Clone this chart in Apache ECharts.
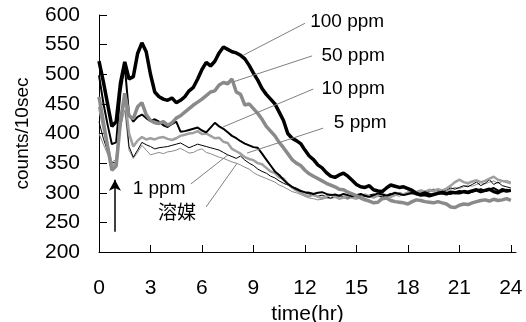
<!DOCTYPE html>
<html>
<head>
<meta charset="utf-8">
<script src="https://cdn.jsdelivr.net/npm/echarts@6.0.0/dist/echarts.min.js"></script>
<style>
  html, body { margin: 0; padding: 0; background: #fff; }
  #chart { width: 526px; height: 322px; }
</style>
</head>
<body>
<div id="chart"></div>
<script>
// sampling times (hr), one value every 15 min
const hours = [
  0, 0.25, 0.5, 0.75, 1, 1.25, 1.5, 1.75, 2, 2.25, 2.5, 2.75, 3, 3.25, 3.5, 3.75,
  4, 4.25, 4.5, 4.75, 5, 5.25, 5.5, 5.75, 6, 6.25, 6.5, 6.75, 7, 7.25, 7.5, 7.75,
  8, 8.25, 8.5, 8.75, 9, 9.25, 9.5, 9.75, 10, 10.25, 10.5, 10.75, 11, 11.25, 11.5, 11.75,
  12, 12.25, 12.5, 12.75, 13, 13.25, 13.5, 13.75, 14, 14.25, 14.5, 14.75, 15, 15.25, 15.5, 15.75,
  16, 16.25, 16.5, 16.75, 17, 17.25, 17.5, 17.75, 18, 18.25, 18.5, 18.75, 19, 19.25, 19.5, 19.75,
  20, 20.25, 20.5, 20.75, 21, 21.25, 21.5, 21.75, 22, 22.25, 22.5, 22.75, 23, 23.25, 23.5, 23.75,
  24
];

const ppm100 = [
  522, 488, 450, 412, 420, 485, 521, 492, 496, 535, 553, 538, 500, 470, 462, 458,
  456, 460, 452, 456, 462, 472, 478, 492, 508, 520, 514, 522, 536, 546, 542, 538,
  536, 532, 526, 515, 502, 490, 476, 466, 458, 450, 436, 422, 400, 392, 388, 383,
  372, 362, 356, 347, 342, 334, 328, 326, 330, 333, 328, 321, 314, 310, 309, 312,
  305, 303, 302, 308, 313, 311, 309, 310, 307, 304, 299, 296, 297, 295, 297, 299,
  300, 298, 301, 300, 300, 302, 301, 303, 305, 302, 304, 306, 302, 300, 305, 303,
  304
];
const ppm50 = [
  462, 420, 378, 338, 345, 420, 468, 430, 425, 445, 452, 432, 422, 418, 417, 420,
  414, 418, 426, 430, 436, 442, 448, 453, 458, 464, 470, 472, 482, 486, 484, 492,
  470, 466, 448, 450, 442, 434, 424, 412, 404, 396, 385, 376, 366, 356, 350, 346,
  338, 332, 328, 324, 320, 316, 313, 310, 306, 305, 301, 298, 295, 291, 288, 286,
  283, 284, 290, 291, 287, 285, 284, 283, 281, 285, 288, 287, 285, 284, 283, 285,
  283, 281, 276, 275, 279, 281, 280, 283, 285, 287, 288, 286, 289, 287, 288, 290,
  287
];
const ppm10 = [
  498, 452, 415, 382, 385, 470, 515, 432, 420, 428, 432, 426, 421, 424, 420, 414,
  411, 416, 420, 403, 404, 406, 408, 410, 405, 402, 410, 418, 412, 408, 402, 396,
  392, 387, 383, 380, 377, 376, 366, 356, 346, 336, 330, 322, 315, 310, 306, 303,
  301, 300, 298, 300, 301, 298, 296, 297, 295, 298, 296, 294, 296, 298, 295, 293,
  296, 299, 297, 295, 297, 300, 298, 296, 298, 300, 297, 299, 301, 298, 296, 299,
  302, 300, 298, 301, 303, 301, 299, 302, 304, 306, 303, 305, 308, 304, 302, 305,
  303
];
const ppm5 = [
  445, 410, 380, 345, 350, 425, 462, 400, 378, 388, 394, 390, 392, 390, 393, 394,
  391, 389, 392, 396, 398, 400, 401, 404, 399, 400, 396, 392, 393, 386, 384, 374,
  370, 366, 360, 357, 355, 350, 348, 342, 336, 333, 326, 324, 315, 309, 304, 300,
  296, 294, 297, 293, 291, 294, 297, 293, 290, 292, 295, 292, 290, 293, 297, 294,
  292, 295, 298, 296, 293, 296, 299, 297, 300, 303, 301, 304, 302, 305, 303, 306,
  304, 307, 312, 318, 322, 318, 316, 319, 321, 318, 320, 324, 327, 322, 320, 318,
  316
];
const ppm1 = [
  420, 392, 370, 350, 352, 420, 455, 378, 360, 372, 385, 381, 378, 374, 376, 377,
  378, 380, 382, 384, 380, 376, 379, 382, 380, 378, 376, 374, 372, 368, 364, 361,
  358, 362, 355, 350, 346, 340, 336, 333, 328, 325, 320, 316, 313, 310, 308, 304,
  300, 298, 295, 294, 296, 293, 291, 294, 296, 293, 291, 294, 297, 295, 293, 296,
  298, 295, 293, 296, 299, 297, 300, 298, 301, 299, 302, 304, 301, 303, 306, 304,
  302, 305, 308, 306, 309, 312, 310, 314, 318, 312, 316, 322, 314, 318, 312, 310,
  308
];
const solvent = [
  400, 382, 365, 352, 356, 410, 440, 372, 358, 368, 380, 372, 364, 366, 368, 366,
  369, 370, 372, 375, 371, 367, 368, 372, 374, 368, 366, 363, 360, 358, 355, 352,
  350, 347, 343, 340, 334, 330, 327, 324, 321, 318, 313, 310, 306, 302, 300, 297,
  294, 291, 290, 288, 289, 291, 290, 292, 294, 291, 289, 292, 295, 293, 290, 293,
  296, 294, 292, 295, 298, 296, 294, 297, 299, 297, 300, 302, 299, 301, 304, 302,
  305, 303, 306, 309, 307, 310, 313, 311, 314, 317, 315, 318, 320, 316, 319, 321,
  318
];

const xTicks = [0, 3, 6, 9, 12, 15, 18, 21, 24];

// callouts: text, point on curve, end of leader, label centre (all in data units)
const callouts = {
  "100 ppm": { curve: [8.40, 532], end: [12.0, 586], text: [14.46, 588] },
  "50 ppm":  { curve: [7.81, 487], end: [12.42, 531], text: [14.81, 531] },
  "10 ppm":  { curve: [7.23, 411], end: [12.48, 475], text: [14.81, 475] },
  "5 ppm":   { curve: [8.63, 367], end: [13.06, 409], text: [15.22, 418] },
  "1 ppm":   { curve: [7.52, 364], end: [5.36, 315], text: [3.5, 306] },
  "溶媒":    { curve: [8.05, 350], end: [6.24, 276], text: [4.55, 264] }
};
// injection arrow
const arrowAt = 0.93;
const arrowFrom = 234;
const arrowTo = 322;

const FONT = "'Liberation Sans', Arial, 'Noto Sans CJK JP', sans-serif";

function pairs(vals) {
  return vals.map((v, i) => [hours[i], v]);
}

function makeSeries(name, vals, color, width) {
  const c = callouts[name];
  return {
    name: name,
    type: "line",
    data: pairs(vals),
    showSymbol: false,
    symbol: "none",
    lineStyle: { color: color, width: width },
    itemStyle: { color: color },
    z: 2,
    markLine: {
      silent: true,
      symbol: "none",
      animation: false,
      lineStyle: { color: "#808080", width: 1, type: "solid" },
      label: { show: false },
      data: [[{ coord: c.curve }, { coord: c.end }]]
    },
    markPoint: {
      silent: true,
      symbol: "circle",
      symbolSize: 0,
      animation: false,
      label: {
        show: true,
        position: "inside",
        formatter: name,
        color: "#000",
        fontSize: 19,
        fontFamily: FONT
      },
      data: [{ coord: c.text }]
    }
  };
}

const chart = echarts.init(document.getElementById("chart"));
chart.setOption({
  animation: false,
  backgroundColor: "#fff",
  textStyle: { fontFamily: FONT },
  grid: { left: 99, right: 10, top: 15, bottom: 70, outerBoundsMode: "none", containLabel: false },
  xAxis: {
    type: "value",
    min: 0,
    max: 24.3,
    name: "time(hr)",
    nameLocation: "middle",
    nameGap: 48,
    nameTextStyle: { color: "#000", fontSize: 21, fontFamily: FONT },
    axisLine: { show: true, lineStyle: { color: "#000", width: 1 } },
    axisTick: { show: true, inside: true, length: 7, customValues: xTicks, lineStyle: { color: "#000" } },
    axisLabel: { customValues: xTicks, color: "#000", fontSize: 21, margin: 26, fontFamily: FONT },
    splitLine: { show: false }
  },
  yAxis: {
    type: "value",
    min: 200,
    max: 600,
    interval: 50,
    name: "counts/10sec",
    nameLocation: "middle",
    nameRotate: 90,
    nameGap: 67,
    nameTextStyle: { color: "#000", fontSize: 19, fontFamily: FONT },
    axisLine: { show: true, lineStyle: { color: "#000", width: 1 } },
    axisTick: { show: true, inside: true, length: 8, lineStyle: { color: "#000" } },
    axisLabel: { color: "#000", fontSize: 21, margin: 19, fontFamily: FONT },
    splitLine: { show: false }
  },
  series: [
    makeSeries("溶媒", solvent, "#8c8c8c", 1),
    makeSeries("1 ppm", ppm1, "#000", 1),
    makeSeries("5 ppm", ppm5, "#a0a0a0", 2.5),
    makeSeries("10 ppm", ppm10, "#000", 2),
    makeSeries("50 ppm", ppm50, "#8a8a8a", 3.5),
    makeSeries("100 ppm", ppm100, "#000", 3.5),
    {
      name: "arrow",
      type: "line",
      data: [],
      markLine: {
        silent: true,
        animation: false,
        symbol: ["none", "arrow"],
        symbolSize: [9, 11],
        lineStyle: { color: "#000", width: 1.5, type: "solid" },
        label: { show: false },
        data: [[{ coord: [arrowAt, arrowFrom] }, { coord: [arrowAt, arrowTo] }]]
      }
    }
  ]
});
</script>
</body>
</html>
